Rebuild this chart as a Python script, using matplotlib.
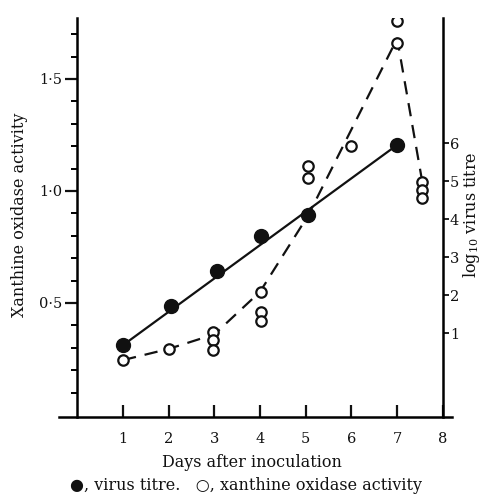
import matplotlib
matplotlib.use("Agg")
import matplotlib.pyplot as plt
from matplotlib.ticker import FixedLocator

plt.rcParams['font.family'] = ['DejaVu Serif', 'DejaVu Sans']
plt.rcParams['mathtext.fontset'] = 'dejavuserif'

# virus titre (right axis, log10)
virus_days = [1, 2.05, 3.05, 4.03, 5.05, 7.0]
virus_vals = [0.68, 1.71, 2.63, 3.55, 4.10, 5.95]
# fitted straight line through virus titre
fit_days = [1, 7]
fit_vals = [0.68, 5.95]

# xanthine oxidase activity (left axis), individual points
xo_days = [1, 2, 2.97, 2.97, 2.97, 4.02, 4.02, 4.02, 5.04, 5.04, 5.99, 7.0, 7.0, 7.55, 7.55, 7.55]
xo_vals = [0.245, 0.295, 0.37, 0.335, 0.29, 0.55, 0.46, 0.42, 1.11, 1.06, 1.20, 1.76, 1.66, 1.04, 1.005, 0.97]
# dashed curve through xanthine oxidase
xo_line_days = [1, 2, 3, 4, 5.05, 7.0, 7.55]
xo_line_vals = [0.245, 0.295, 0.36, 0.55, 0.89, 1.68, 1.04]

day_ticks = [1, 2, 3, 4, 5, 6, 7, 8]
left_ticks = [0.5, 1.0, 1.5]
left_labels = ["0·5", "1·0", "1·5"]
right_ticks = [1, 2, 3, 4, 5, 6]

ink = "#111111"

fig = plt.figure(figsize=(4.81, 4.94), dpi=100)
ax = fig.add_axes([59 / 481, 77 / 494, 393 / 481, 399 / 494])
ax2 = ax.twinx()

ax.set_xlim(-0.4, 8.2)
ax.set_ylim(-0.009, 1.772)
ax2.set_ylim(-1.21, 9.29)

# lines
ax2.plot(fit_days, fit_vals, color=ink, lw=1.6, solid_capstyle='butt', zorder=2)
ax2.plot(virus_days, virus_vals, 'o', color=ink, ms=10, zorder=3)
ax.plot(xo_line_days, xo_line_vals, color=ink, lw=1.6, dashes=(6, 4), zorder=2)
ax.plot(xo_days, xo_vals, 'o', mfc='white', mec=ink, mew=1.6, ms=7.5, zorder=4)

# spines
for a in (ax, ax2):
    a.spines['top'].set_visible(False)
ax.spines['right'].set_visible(False)
ax.spines['left'].set_position(('data', 0))
ax.spines['left'].set_linewidth(1.8)
ax.spines['bottom'].set_linewidth(1.8)
ax2.spines['left'].set_visible(False)
ax2.spines['bottom'].set_visible(False)
ax2.spines['right'].set_position(('data', 8))
ax2.spines['right'].set_linewidth(1.8)

# ticks
ax.xaxis.set_major_locator(FixedLocator(day_ticks))
ax.tick_params(axis='x', direction='in', length=9, width=1.6, labelsize=10.5, pad=11, colors=ink)
ax.yaxis.set_major_locator(FixedLocator(left_ticks))
ax.set_yticklabels(left_labels)
ax.yaxis.set_minor_locator(FixedLocator([0.1, 0.2, 0.3, 0.4, 0.6, 0.7, 0.8, 0.9,
                                         1.1, 1.2, 1.3, 1.4, 1.6, 1.7]))
ax.tick_params(axis='y', which='major', direction='out', length=9, width=1.6, labelsize=10.5, pad=2, colors=ink)
ax.tick_params(axis='y', which='minor', direction='out', length=4, width=1.4)
ax2.yaxis.set_major_locator(FixedLocator(right_ticks))
ax2.tick_params(axis='y', direction='out', length=4, width=1.3, labelsize=10.5, pad=1, colors=ink)

# labels
ax.set_ylabel("Xanthine oxidase activity", fontsize=11.5, color=ink)
ax.yaxis.set_label_coords(-0.079, 0.506)
ax2.set_ylabel(r"log$_{10}$ virus titre", fontsize=11.5, color=ink)
ax2.yaxis.set_label_coords(1.023, 0.506)
fig.text(252 / 481, 1 - 462 / 494, "Days after inoculation", ha='center', va='center',
         fontsize=11.5, color=ink)
fig.text(246 / 481, 1 - 485 / 494, "●, virus titre.   ○, xanthine oxidase activity",
         ha='center', va='center', fontsize=11.5, color=ink)

fig.savefig("out.png", dpi=100, facecolor='white')
